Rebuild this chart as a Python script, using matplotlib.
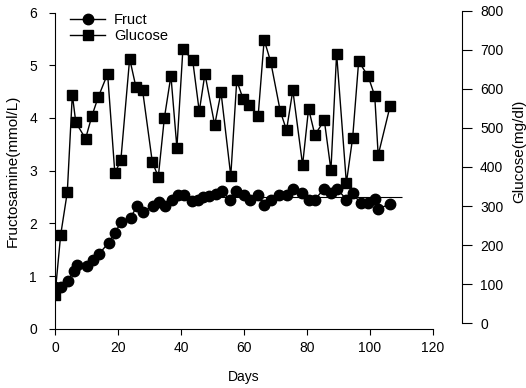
import matplotlib.pyplot as plt

plt.rcParams["font.family"] = ["Liberation Sans", "DejaVu Sans"]

# Fructosamine (mmol/L)
fruct_days = [0, 2, 4, 6, 7, 10, 12, 14, 17, 19, 21, 24, 26, 28, 31, 33, 35, 37, 39,
              41, 43.5, 45.5, 47, 49, 51, 53, 55.5, 57.5, 60, 62, 64.5, 66.5, 68.5,
              71, 73.5, 75.5, 78.5, 80.5, 82.5, 85.5, 87.5, 89.5, 92.5, 94.5, 97,
              99.5, 101.5, 102.5, 106.5]
fruct = [0.80, 0.80, 0.90, 1.10, 1.20, 1.19, 1.30, 1.42, 1.63, 1.82, 2.02, 2.11, 2.32,
         2.22, 2.33, 2.41, 2.32, 2.44, 2.54, 2.54, 2.43, 2.45, 2.50, 2.52, 2.55, 2.62,
         2.44, 2.62, 2.54, 2.44, 2.54, 2.35, 2.44, 2.53, 2.54, 2.65, 2.57, 2.45, 2.45,
         2.66, 2.58, 2.66, 2.45, 2.57, 2.38, 2.38, 2.47, 2.27, 2.37]

# Glucose (mg/dl)
glu_days = [0, 1.8, 3.9, 5.5, 6.6, 9.7, 11.7, 13.7, 16.7, 19.0, 20.9, 23.7, 25.7, 27.8,
            30.9, 32.8, 34.7, 36.8, 38.7, 40.6, 43.7, 45.8, 47.6, 50.7, 52.7, 55.8,
            57.7, 59.7, 61.7, 64.5, 66.4, 68.5, 71.5, 73.5, 75.5, 78.6, 80.5, 82.5,
            85.5, 87.6, 89.4, 92.5, 94.5, 96.4, 99.4, 101.5, 102.6, 106.4]
glucose = [72, 226, 335, 585, 514, 472, 530, 578, 638, 384, 417, 677, 604, 596, 412,
           375, 524, 633, 449, 701, 673, 542, 638, 507, 591, 377, 621, 574, 559, 531,
           725, 668, 543, 494, 596, 405, 549, 482, 519, 392, 690, 359, 475, 670, 632,
           582, 430, 556]

plateau = 2.5
fontsize = 10

fig = plt.figure(figsize=(5.26, 3.88), dpi=100)
W, H = 526, 388

# left axis: fructosamine
ax1 = fig.add_axes([55 / W, (H - 328.7) / H, 378 / W, 316.2 / H])
line1, = ax1.plot(fruct_days, fruct, "-o", color="black", lw=1, ms=7.5, label="Fruct")
ax1.hlines(plateau, 38, 110, color="black", lw=0.8)
ax1.set_xlim(0, 120)
ax1.set_ylim(0, 6)
ax1.set_xticks(range(0, 121, 20))
ax1.set_yticks(range(0, 7))
ax1.spines["top"].set_visible(False)
ax1.spines["right"].set_visible(False)
ax1.tick_params(direction="out", length=4, width=0.8, labelsize=fontsize, pad=5)
ax1.tick_params(axis="y", pad=9)
ax1.set_xlabel("Days", fontsize=fontsize, labelpad=11)
ax1.set_ylabel("Fructosamine(mmol/L)", fontsize=11, labelpad=7)

# right axis: glucose, offset spine
ax2 = fig.add_axes([55 / W, (H - 323.3) / H, 407 / W, 312.8 / H])
ax2.patch.set_visible(False)
line2, = ax2.plot(glu_days, glucose, "-s", color="black", lw=1, ms=6.5, label="Glucose")
ax2.set_xlim(0, 120 * 407 / 378)
ax2.set_ylim(0, 800)
ax2.set_yticks(range(0, 801, 100))
for side in ["left", "top", "bottom"]:
    ax2.spines[side].set_visible(False)
ax2.set_xticks([])
ax2.yaxis.tick_right()
ax2.yaxis.set_label_position("right")
ax2.tick_params(axis="y", direction="out", length=7, width=0.8, labelsize=fontsize, pad=6)
ax2.set_ylabel("Glucose(mg/dl)", fontsize=11, rotation=90, ha="center", va="center")
ax2.yaxis.set_label_coords((519 - 55) / 407, 0.55)

ax2.legend(handles=[line1, line2], loc="upper left", bbox_to_anchor=(0.005, 1.035),
           frameon=False, fontsize=10.5, handlelength=2.4, handletextpad=0.6,
           labelspacing=0.15)

plt.savefig("out.png", dpi=100)
